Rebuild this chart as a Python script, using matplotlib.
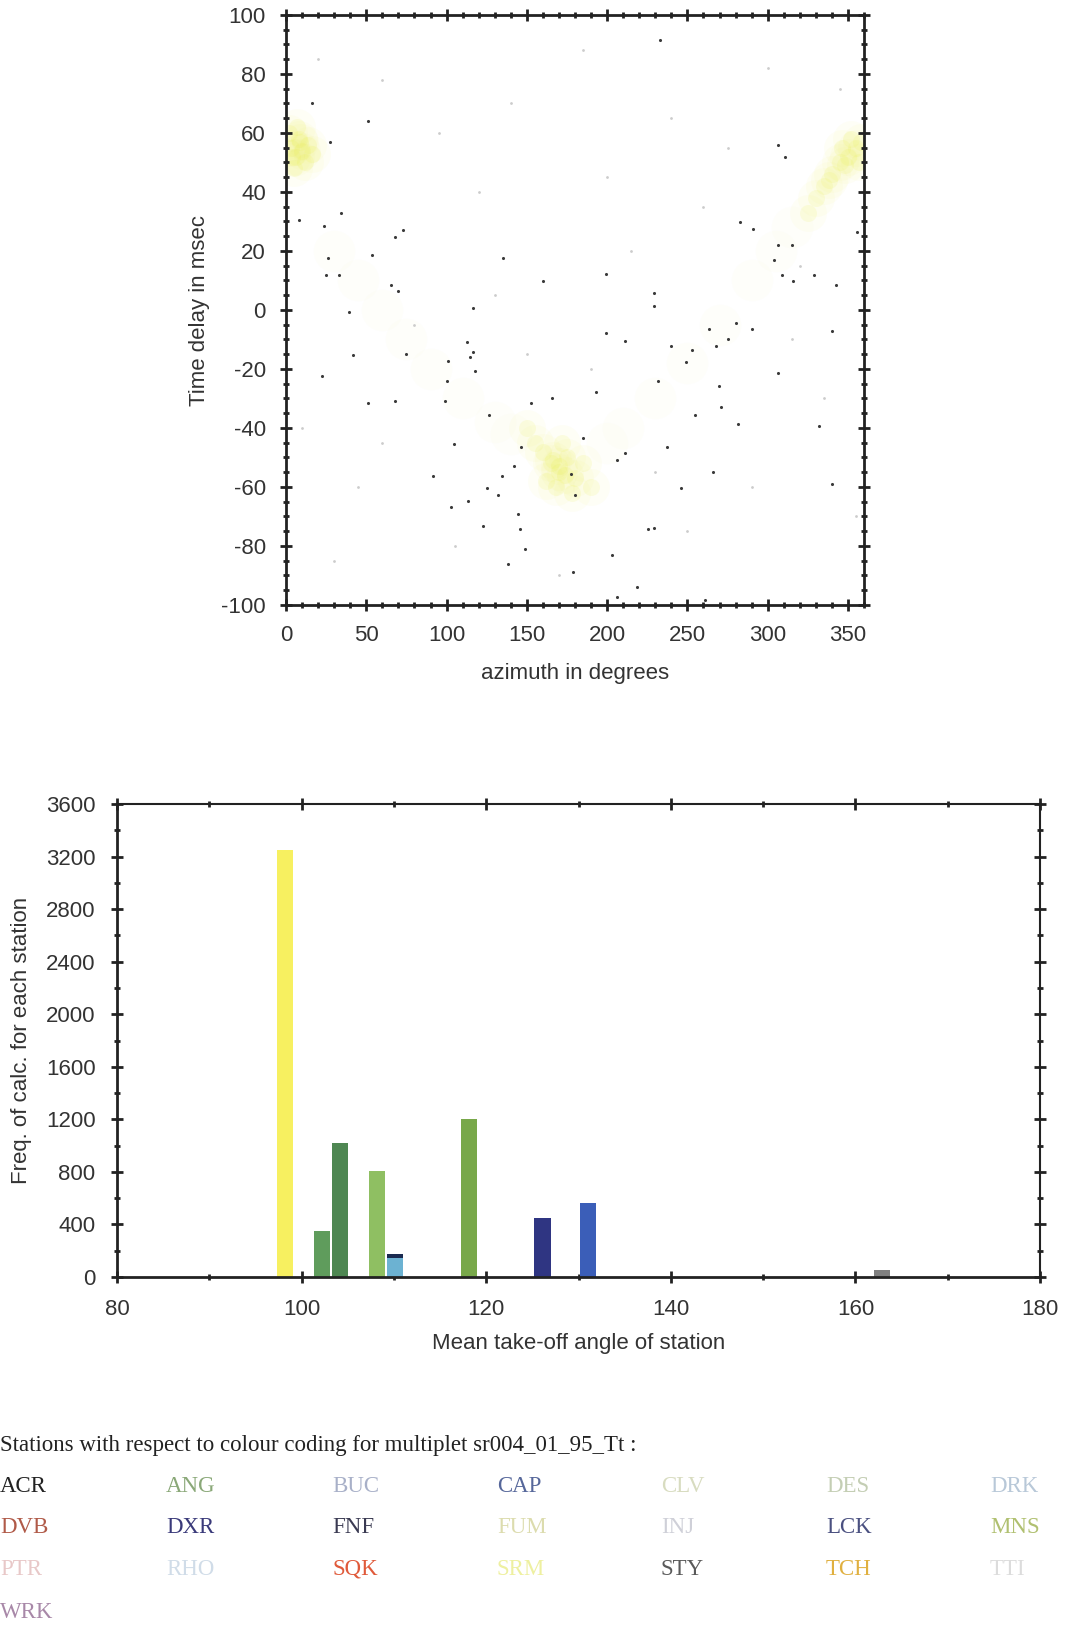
import matplotlib
matplotlib.use("Agg")
import matplotlib.pyplot as plt
from matplotlib.ticker import MultipleLocator

# ---------------- data ----------------
# dark scatter points (azimuth, time delay)
dark_az = [233, 16.5, 27.5, 51, 306.6, 311, 34, 8, 23.7, 68, 72.7, 53.6, 26, 25, 33, 65.5, 70, 39,
           135, 160, 199, 229, 229, 291, 282.6, 306.6, 315, 304, 309, 316, 329, 342.5, 355.6, 280,
           290, 268, 263.6, 275.5, 249, 211, 199, 116.7, 116.7, 340,
           113, 114.4, 101, 41.6, 75, 100, 118, 68, 99, 126.4, 152.6, 165.7, 193, 231.4, 240, 253,
           269.6, 255, 281.5, 306.6, 331.7, 104.8, 146.6, 184.8, 206.4, 211, 237.4, 134.8, 141.9,
           125.2, 132.3, 144.3, 145.5, 149, 122.8, 102.5, 113.2, 177.7, 180, 225.5, 229, 202.8,
           206.4, 218.4, 261, 138.3, 179, 245.8, 266, 340, 91.7, 51, 22.5, 270.7]
dark_td = [91.5, 70, 57, 64, 56, 52, 33, 30.5, 28.5, 24.7, 27, 18.8, 17.6, 11.7, 11.7, 8.4, 6.4, -0.7,
           17.6, 9.8, 12.3, 5.8, 1.3, 27.3, 29.8, 22, 22, 16.9, 11.7, 9.8, 11.7, 8.5, 26.6, -4.4,
           -6.4, -12.2, -6.4, -9.7, -17.5, -10.4, -7.8, 0.7, -14.2, -7,
           -10.8, -16, -17.3, -15.4, -14.8, -24, -20.6, -31, -31, -35.5, -31.5, -29.7, -27.7, -23.9,
           -12.2, -13.5, -25.7, -35.5, -38.8, -21.2, -39.4, -45.3, -46.5, -43.3, -51, -48.5, -46.5,
           -56.3, -53, -60.2, -62.7, -69.3, -74.4, -81, -73.2, -66.7, -64.7, -55.6, -62.7, -74.4,
           -73.8, -82.9, -97.2, -93.9, -98.4, -86, -88.7, -60.2, -55, -58.9, -56.3, -31.5, -22.5, -32.9]

# faint grey scatter points
grey_az = [20, 60, 95, 140, 185, 240, 300, 345, 120, 200, 260, 320, 80, 10, 45, 150, 215, 275,
           335, 105, 170, 250, 355, 30, 230, 290, 190, 130, 60, 315]
grey_td = [85, 78, 60, 70, 88, 65, 82, 75, 40, 45, 35, 15, -5, -40, -60, -15, 20, 55, -30,
           -80, -90, -75, -70, -85, -55, -60, -20, 5, -45, -10]

# yellow (dense) scatter points - clusters
yel_az = [3, 6, 8, 5, 10, 2, 12, 4, 7, 14, 9, 16,
          355, 350, 345, 340, 352, 335, 330, 346, 357, 325, 358, 348, 338,
          165, 170, 175, 160, 180, 168, 155, 185, 172, 150, 190, 162, 178, 170, 166, 174]
yel_td = [55, 52, 58, 48, 54, 60, 50, 52, 62, 56, 57, 53,
          55, 52, 50, 46, 58, 42, 38, 55, 50, 33, 57, 49, 44,
          -52, -55, -50, -48, -57, -60, -45, -52, -45, -40, -60, -58, -62, -53, -51, -56]

# pale yellow scatter points along the V
pale_az = [30, 45, 60, 75, 90, 110, 130, 140, 200, 210, 230, 250, 270, 290, 305, 315]
pale_td = [20, 10, 0, -10, -20, -30, -38, -42, -45, -40, -30, -18, -5, 10, 20, 28]

# histogram of stations
bar_angle = [98.2, 102.2, 104.2, 108.2, 110.1, 118.1, 126.1, 131.05, 162.9]
bar_freq = [3250, 350, 1020, 810, 145, 1200, 450, 560, 50]
bar_colors = ['#f7f060', '#5f9c5c', '#4e8752', '#8fbf62', '#6cb2d2', '#78a84a', '#2f3582', '#3b5eb8', '#808080']
cap_angle = [110.1]
cap_freq = [33]
cap_base = [145]

stations = ['ACR', 'ANG', 'BUC', 'CAP', 'CLV', 'DES', 'DRK',
            'DVB', 'DXR', 'FNF', 'FUM', 'INJ', 'LCK', 'MNS',
            'PTR', 'RHO', 'SQK', 'SRM', 'STY', 'TCH', 'TTI',
            'WRK']
station_colors = ['#222222', '#8aa878', '#a8b0c8', '#56679a', '#d8dcc0', '#c4ceb4', '#b8c8d8',
                  '#b05a48', '#3a3a7a', '#3a3a52', '#dcdcae', '#cfd0d8', '#4a5080', '#b0c070',
                  '#e8c8c8', '#d0dce8', '#e05a3a', '#eef0a0', '#5a5a5a', '#e0b040', '#dcdcdc',
                  '#a888a8']

# ---------------- figure ----------------
W, H = 1067, 1626
fig = plt.figure(figsize=(W / 100, H / 100), dpi=100)
fig.patch.set_facecolor('white')
sans = ['Liberation Sans', 'DejaVu Sans']
serif = ['Liberation Serif', 'DejaVu Serif']
plt.rcParams['font.family'] = sans
plt.rcParams['axes.unicode_minus'] = False


def style_axes(ax, pad):
    for s in ax.spines.values():
        s.set_linewidth(2)
        s.set_color('#222222')
    ax.tick_params(which='both', top=True, right=True, colors='#222222', labelcolor='#333333',
                   labelsize=16, pad=pad)
    ax.tick_params(which='major', direction='inout', length=9, width=2)
    ax.tick_params(which='minor', direction='inout', length=4, width=2)


# top scatter
ax1 = fig.add_axes([286 / W, 1 - 605 / H, (864 - 286) / W, (605 - 15) / H])
ax1.scatter(yel_az, yel_td, s=700, color='#eef26a', alpha=0.06, linewidths=0, zorder=1)
ax1.scatter(yel_az, yel_td, s=150, color='#e8f040', alpha=0.12, linewidths=0, zorder=1)
ax1.scatter(pale_az, pale_td, s=900, color='#f2f4b0', alpha=0.05, linewidths=0, zorder=1)
ax1.scatter(grey_az, grey_td, s=4, color='#cccccc', linewidths=0, zorder=2)
ax1.scatter(dark_az, dark_td, s=5, color='#3a3a3a', linewidths=0, zorder=3)
ax1.set_xlim(0, 360)
ax1.set_ylim(-100, 100)
ax1.xaxis.set_major_locator(MultipleLocator(50))
ax1.xaxis.set_minor_locator(MultipleLocator(10))
ax1.yaxis.set_major_locator(MultipleLocator(20))
ax1.yaxis.set_minor_locator(MultipleLocator(5))
style_axes(ax1, 10)
ax1.set_xlabel('azimuth in degrees', fontsize=16, color='#333333', labelpad=12)
ax1.set_ylabel('Time delay in msec', fontsize=16, color='#333333', labelpad=8)

# bottom histogram
ax2 = fig.add_axes([117 / W, 1 - 1277 / H, (1040 - 117) / W, (1277 - 804) / H])
for a, f, c in zip(bar_angle, bar_freq, bar_colors):
    ax2.bar(a, f, width=1.75, color=c, linewidth=0, zorder=2)
ax2.bar(cap_angle, cap_freq, bottom=cap_base, width=1.75, color='#1a2a50', linewidth=0, zorder=2)
ax2.set_xlim(80, 180)
ax2.set_ylim(0, 3600)
ax2.xaxis.set_major_locator(MultipleLocator(20))
ax2.xaxis.set_minor_locator(MultipleLocator(10))
ax2.yaxis.set_major_locator(MultipleLocator(400))
ax2.yaxis.set_minor_locator(MultipleLocator(200))
style_axes(ax2, 11)
ax2.spines['top'].set_linewidth(1.5)
ax2.spines['right'].set_linewidth(1.5)
ax2.set_xlabel('Mean take-off angle of station', fontsize=16, color='#333333', labelpad=10)
ax2.set_ylabel('Freq. of calc. for each station', fontsize=16, color='#333333', labelpad=10)

# legend text
fig.text(0, 1 - 1445 / H, 'Stations with respect to colour coding for multiplet sr004_01_95_Tt :',
         family=serif, fontsize=16.5, color='#222222', va='center', ha='left')
col_x = [0, 166, 332, 497, 661, 826, 990]
row_y = [1486, 1527, 1569, 1612]
for i, (name, col) in enumerate(zip(stations, station_colors)):
    r, c = divmod(i, 7)
    fig.text(col_x[c] / W, 1 - row_y[r] / H, name, family=serif, fontsize=16.5, color=col,
             va='center', ha='left')

fig.savefig('out.png', dpi=100, facecolor='white')
